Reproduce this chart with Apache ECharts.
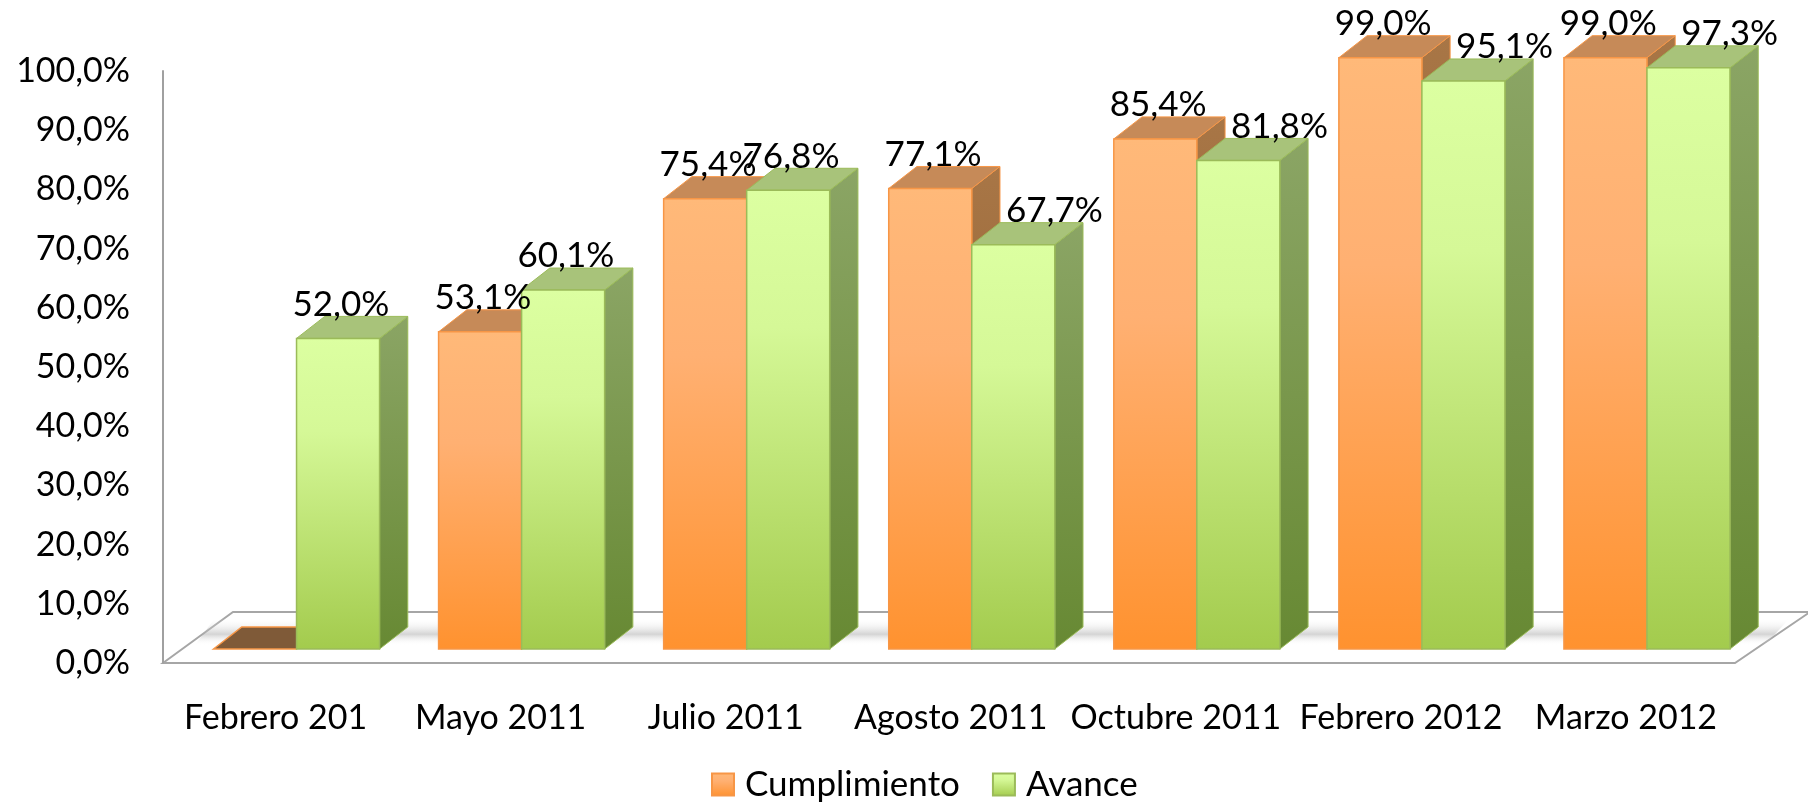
<!DOCTYPE html>
<html><head><meta charset="utf-8">
<script src="https://cdn.jsdelivr.net/npm/echarts@6/dist/echarts.min.js"></script>
<style>html,body{margin:0;padding:0;background:#fff}#c{width:1808px;height:805px}</style>
</head><body><div id="c"></div>
<script>
// ---- data ----
const categories = ['Febrero 201', 'Mayo 2011', 'Julio 2011', 'Agosto 2011', 'Octubre 2011', 'Febrero 2012', 'Marzo 2012'];
const cumplimiento = [0, 53.1, 75.4, 77.1, 85.4, 99.0, 99.0];
const avance = [52.0, 60.1, 76.8, 67.7, 81.8, 95.1, 97.3];
const seriesNames = ['Cumplimiento', 'Avance'];
const yMin = 0, yMax = 100, yStep = 10;

// ---- styling ----
const FONT = 'Lato, "Open Sans", sans-serif';
const BAR_FRAC = 83 / 225;
const DEPTH_X = 0.34, DEPTH_Y = 0.265;
const LG = echarts.graphic.LinearGradient;
function fmt(v) { return v.toFixed(1).replace('.', ',') + '%'; }

const styles = [
  {
    front: () => new LG(0, 0, 0, 1, [{offset: 0, color: '#FFB979'}, {offset: 0.35, color: '#FFB072'}, {offset: 1, color: '#FF922F'}]),
    side: () => new LG(0, 0, 0, 1, [{offset: 0, color: '#A87646'}, {offset: 1, color: '#8A5A2C'}]),
    top: '#C68A58', zeroTop: '#7F5A38', border: '#F79646'
  },
  {
    front: () => new LG(0, 0, 0, 1, [{offset: 0, color: '#DCFFA1'}, {offset: 0.3, color: '#D5F897'}, {offset: 1, color: '#A3CB4D'}]),
    side: () => new LG(0, 0, 0, 1, [{offset: 0, color: '#8BA565'}, {offset: 1, color: '#678933'}]),
    top: '#A8C37A', zeroTop: '#6A8A35', border: '#9BBB59'
  }
];

function geom(sIdx, api) {
  const i = api.value(0), v = api.value(1);
  const pTop = api.coord([i, v]), pBase = api.coord([i, 0]);
  const band = api.size([1, 0])[0];
  const bw = band * BAR_FRAC, dx = bw * DEPTH_X, dy = -bw * DEPTH_Y;
  const x0 = sIdx === 0 ? pTop[0] - bw : pTop[0];
  return {i, v, x0, x1: x0 + bw, yT: pTop[1], yB: pBase[1], dx, dy, bw};
}

function renderBar(sIdx) {
  return function (params, api) {
    const g = geom(sIdx, api), st = styles[sIdx];
    const {x0, x1, yT, yB, dx, dy, bw, v} = g;
    const children = [];
    if (v > 0) {
      children.push({type: 'polygon', shape: {points: [[x1, yB], [x1 + dx, yB + dy], [x1 + dx, yT + dy], [x1, yT]]},
        style: {fill: st.side(), stroke: st.border, lineWidth: 1}});
      children.push({type: 'polygon', shape: {points: [[x0, yT], [x0 + dx, yT + dy], [x1 + dx, yT + dy], [x1, yT]]},
        style: {fill: st.top, stroke: st.border, lineWidth: 1}});
      children.push({type: 'rect', shape: {x: x0, y: yT, width: bw, height: yB - yT},
        style: {fill: st.front(), stroke: st.border, lineWidth: 1.5}});
    } else {
      children.push({type: 'polygon', shape: {points: [[x0, yB], [x0 + dx, yB + dy], [x1 + dx, yB + dy], [x1, yB]]},
        style: {fill: st.zeroTop, stroke: st.border, lineWidth: 1.5}});
    }
    return {type: 'group', children};
  };
}

function renderLabel(sIdx) {
  return function (params, api) {
    const g = geom(sIdx, api);
    if (!(g.v > 0)) return null;
    let lx = (g.x0 + g.x1) / 2 + g.dx * 0.1, align = 'center';
    if (sIdx === 1 && cumplimiento[g.i] > g.v) { lx = g.x0 + g.dx + 6; align = 'left'; }
    return {type: 'text', style: {text: fmt(g.v), x: lx, y: g.yT - 34, align, verticalAlign: 'middle',
      font: '35px ' + FONT, fill: '#000'}};
  };
}

const seriesData = [cumplimiento, avance].map(arr => arr.map((v, i) => [i, v]));

const chart = echarts.init(document.getElementById('c'), null, {renderer: 'canvas'});
chart.setOption({
  animation: false,
  backgroundColor: '#fff',
  textStyle: {fontFamily: FONT},
  grid: [
    {left: 184, right: 48.5, top: 51.7, bottom: 156},
    {left: 163, width: 2, top: 71, bottom: 142}
  ],
  xAxis: [
    {type: 'category', gridIndex: 0, data: categories, axisLine: {show: false}, axisTick: {show: false},
      axisLabel: {interval: 0, fontSize: 34, color: '#000', margin: 52, padding: [0, 42, 0, 0], fontFamily: FONT}},
    {type: 'value', gridIndex: 1, show: false}
  ],
  yAxis: [
    {type: 'value', gridIndex: 0, min: yMin, max: yMax, show: false},
    {type: 'value', gridIndex: 1, min: yMin, max: yMax, interval: yStep,
      axisLine: {show: true, lineStyle: {color: '#A0A0A0', width: 2}}, axisTick: {show: false}, splitLine: {show: false},
      axisLabel: {margin: 33, fontSize: 34, color: '#000', fontFamily: FONT, formatter: v => fmt(v)}}
  ],
  legend: {
    data: seriesNames, left: 711, top: 767, padding: 0, itemWidth: 22, itemHeight: 22, itemGap: 32, icon: 'rect',
    textStyle: {fontSize: 35, color: '#000', fontFamily: FONT, padding: [0, 0, 0, 6]}
  },
  graphic: [
    {type: 'polygon', z: -10, shape: {points: [[163, 663], [233, 612], [1810, 612], [1735, 663]]},
      style: {fill: '#fff', stroke: '#A6A6A6', lineWidth: 2}},
    {type: 'polygon', z: -9, shape: {points: [[195, 645], [215, 618], [1790, 618], [1765, 645]]},
      style: {fill: new LG(0, 0, 0, 1, [{offset: 0, color: 'rgba(255,255,255,0)'}, {offset: 0.6, color: 'rgba(170,170,170,0.5)'}, {offset: 1, color: 'rgba(255,255,255,0)'}])}}
  ],
  series: [
    {type: 'custom', name: seriesNames[0], xAxisIndex: 0, yAxisIndex: 0, z: 2, data: seriesData[0], renderItem: renderBar(0),
      itemStyle: {color: styles[0].front(), borderColor: styles[0].border, borderWidth: 1}},
    {type: 'custom', name: seriesNames[1], xAxisIndex: 0, yAxisIndex: 0, z: 3, data: seriesData[1], renderItem: renderBar(1),
      itemStyle: {color: styles[1].front(), borderColor: styles[1].border, borderWidth: 1}},
    {type: 'custom', name: 'lbl0', xAxisIndex: 0, yAxisIndex: 0, z: 6, data: seriesData[0], renderItem: renderLabel(0), silent: true},
    {type: 'custom', name: 'lbl1', xAxisIndex: 0, yAxisIndex: 0, z: 6, data: seriesData[1], renderItem: renderLabel(1), silent: true}
  ]
});
</script>
</body></html>
